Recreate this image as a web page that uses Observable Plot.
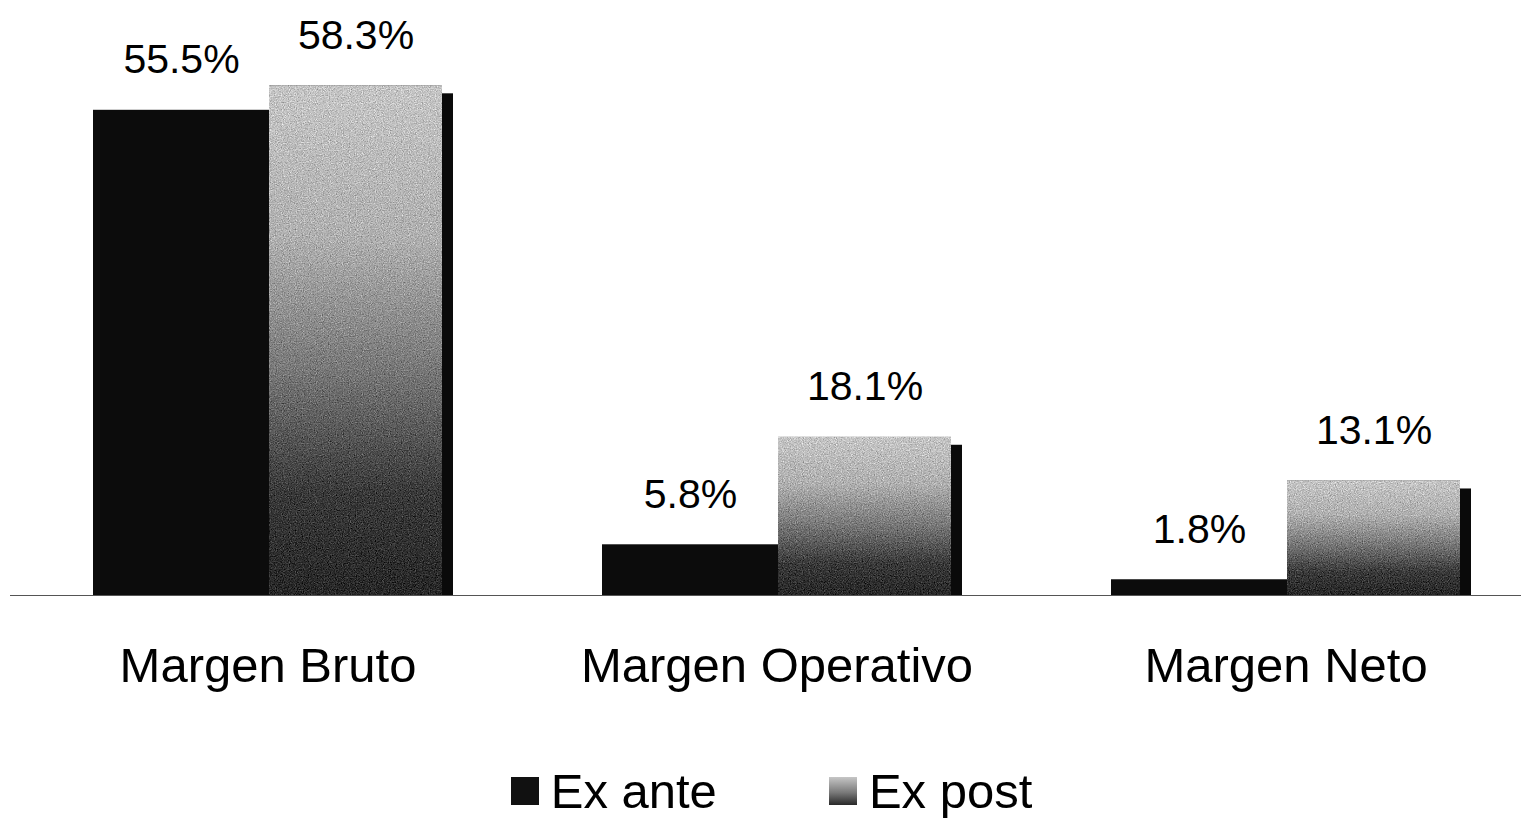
<!DOCTYPE html>
<html>
<head>
<meta charset="utf-8">
<script src="https://cdn.jsdelivr.net/npm/d3@7"></script>
<script src="https://cdn.jsdelivr.net/npm/@observablehq/plot@0.6"></script>
<style>
  html, body { margin: 0; padding: 0; background: #fff; }
  body { width: 1521px; height: 819px; overflow: hidden; font-family: "Liberation Sans", Arial, sans-serif; }
  #chart svg { display: block; }
  #legend { display: flex; justify-content: center; align-items: center; gap: 112px; margin-top: 46px; height: 50px; line-height: 50px; padding-left: 22px; font-size: 49px; color: #000; }
  .item { display: flex; align-items: center; gap: 12px; }
  .sw { width: 28px; height: 28px; display: inline-block; }
</style>
</head>
<body>
<div id="chart"></div>
<div id="legend"></div>
<script>
const categories = ["Margen Bruto", "Margen Operativo", "Margen Neto"];
const seriesNames = ["Ex ante", "Ex post"];
const exAnte = [55.5, 5.8, 1.8];
const exPost = [58.3, 18.1, 13.1];

const anteData = categories.map((c, i) => ({category: c, value: exAnte[i]}));
const postData = categories.map((c, i) => ({category: c, value: exPost[i]}));
const fmt = v => d3.format(".1f")(v) + "%";

const chart = Plot.plot({
  width: 1521,
  height: 720,
  marginLeft: 10,
  marginRight: 0,
  marginTop: 18,
  marginBottom: 125,
  style: {fontFamily: "Liberation Sans, Arial, sans-serif", background: "#fff", color: "#000"},
  x: {domain: categories, paddingInner: 0.315, paddingOuter: 0.14, align: 0.573, axis: null},
  y: {domain: [0, 66], axis: null},
  marks: [
    Plot.barY(postData, {x: "category", y: "value", insetLeft: 176, dx: 11, insetTop: 8, fill: "#0a0a0a"}),
    Plot.barY(anteData, {x: "category", y: "value", insetRight: 173, fill: "#0c0c0c", className: "ante-bar"}),
    Plot.barY(postData, {x: "category", y: "value", insetLeft: 176, fill: "url(#exPostGrad)", className: "post-bar"}),
    Plot.ruleY([0], {stroke: "#555", strokeWidth: 1}),
    Plot.text(anteData, {x: "category", y: "value", text: d => fmt(d.value), dx: -86.5, dy: -50, fontSize: 41, fill: "#000"}),
    Plot.text(postData, {x: "category", y: "value", text: d => fmt(d.value), dx: 88, dy: -50, fontSize: 41, fill: "#000"}),
    Plot.text(categories, {x: d => d, frameAnchor: "bottom", dy: 86, text: d => d, fontSize: 49, fill: "#000"})
  ]
});

const ns = "http://www.w3.org/2000/svg";
const defs = document.createElementNS(ns, "defs");
defs.innerHTML = `
  <linearGradient id="exPostGrad" x1="0" y1="0" x2="0" y2="1">
    <stop offset="0%" stop-color="#c6c6c6"/>
    <stop offset="30%" stop-color="#b0b0b0"/>
    <stop offset="55%" stop-color="#7a7a7a"/>
    <stop offset="80%" stop-color="#3a3a3a"/>
    <stop offset="100%" stop-color="#282828"/>
  </linearGradient>
  <filter id="grain" x="0" y="0" width="1" height="1" color-interpolation-filters="sRGB">
    <feTurbulence type="fractalNoise" baseFrequency="0.85" numOctaves="2" seed="7" result="noise"/>
    <feColorMatrix in="noise" type="matrix" values="0.33 0.33 0.33 0 0  0.33 0.33 0.33 0 0  0.33 0.33 0.33 0 0  0 0 0 0 1" result="gray"/>
    <feComposite in="SourceGraphic" in2="gray" operator="arithmetic" k1="0" k2="1" k3="0.9" k4="-0.45" result="mixed"/>
    <feComposite in="mixed" in2="SourceAlpha" operator="in"/>
  </filter>`;
chart.insertBefore(defs, chart.firstChild);
d3.select(chart).selectAll(".post-bar rect").attr("filter", "url(#grain)");
document.getElementById("chart").appendChild(chart);

const legend = document.getElementById("legend");
const swatchStyles = ["background:#111", "background:linear-gradient(#c6c6c6, #7a7a7a 55%, #282828)"];
seriesNames.forEach((name, i) => {
  const item = document.createElement("div");
  item.className = "item";
  item.innerHTML = `<span class="sw" style="${swatchStyles[i]}"></span><span>${name}</span>`;
  legend.appendChild(item);
});
</script>
</body>
</html>
